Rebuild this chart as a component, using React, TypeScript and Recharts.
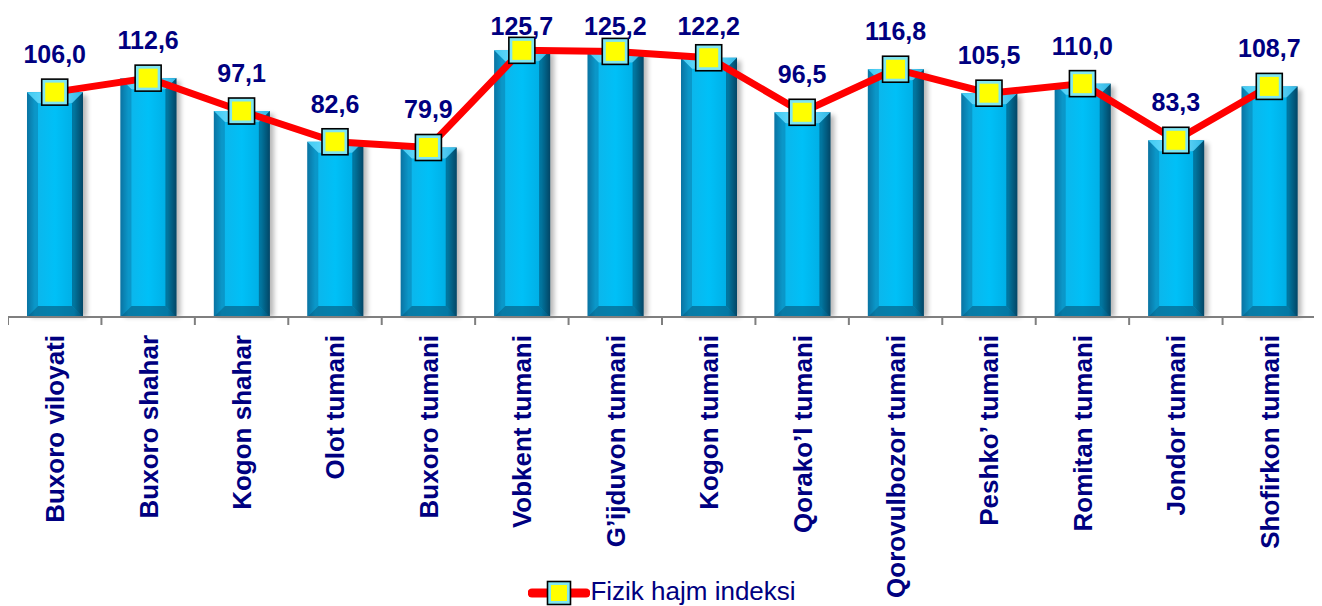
import React from 'react';
import { ComposedChart, Bar, Line, XAxis, YAxis, Legend, LabelList } from 'recharts';

const CATEGORIES = [
  'Buxoro viloyati',
  'Buxoro shahar',
  'Kogon shahar',
  'Olot tumani',
  'Buxoro tumani',
  'Vobkent tumani',
  'G’ijduvon tumani',
  'Kogon tumani',
  'Qorako’l tumani',
  'Qorovulbozor tumani',
  'Peshko’ tumani',
  'Romitan tumani',
  'Jondor tumani',
  'Shofirkon tumani',
];
const VALUES = [106.0, 112.6, 97.1, 82.6, 79.9, 125.7, 125.2, 122.2, 96.5, 116.8, 105.5, 110.0, 83.3, 108.7];
const SERIES_NAME = 'Fizik hajm indeksi';
const Y_DOMAIN: [number, number] = [0, 140];

const data = CATEGORIES.map((name, i) => ({ name, value: VALUES[i] }));

const NAVY = '#000080';
const FONT = '"Liberation Sans", Arial, sans-serif';

function BarShape(props: any) {
  const { x, y, width, height } = props;
  if (!height || height <= 0) return null;
  const b = Math.min(11, width / 4, height / 2);
  return (
    <g>
      <rect x={x + 4} y={y + 3} width={width} height={height - 3} fill="#000" opacity={0.28} filter="url(#blurShadow)" />
      <rect x={x} y={y} width={width} height={height} fill="url(#barGrad)" />
      <polygon points={`${x},${y} ${x + width},${y} ${x + width - b},${y + b} ${x + b},${y + b}`} fill="url(#topGrad)" />
      <polygon points={`${x},${y} ${x + b},${y + b} ${x + b},${y + height - b} ${x},${y + height}`} fill="#0a5f8a" opacity={0.35} />
      <polygon points={`${x + width},${y} ${x + width - b},${y + b} ${x + width - b},${y + height - b} ${x + width},${y + height}`} fill="#02304a" opacity={0.45} />
      <polygon points={`${x},${y + height} ${x + b},${y + height - b} ${x + width - b},${y + height - b} ${x + width},${y + height}`} fill="#064a6e" opacity={0.55} />
    </g>
  );
}

function SquareDot(props: any) {
  const { cx, cy } = props;
  if (cx == null || cy == null) return null;
  const s = 26;
  return (
    <g>
      <rect x={cx - s / 2} y={cy - s / 2} width={s} height={s} fill="#7fe6f2" stroke="#000" strokeWidth={1.6} />
      <rect x={cx - s / 2 + 3.5} y={cy - s / 2 + 3.5} width={s - 7} height={s - 7} fill="#ffff00" />
    </g>
  );
}

function XTick(props: any) {
  const { x, y, payload, index, width, visibleTicksCount } = props;
  const count = visibleTicksCount || CATEGORIES.length;
  const band = (width || 1308) / count;
  const ty = y + 18;
  return (
    <g>
      <line x1={x - band / 2} y1={y} x2={x - band / 2} y2={y + 8} stroke="#7f7f7f" strokeWidth={2} />
      {index === count - 1 && (
        <line x1={x + band / 2} y1={y} x2={x + band / 2} y2={y + 8} stroke="#7f7f7f" strokeWidth={2} />
      )}
      <text
        x={x}
        y={ty}
        transform={`rotate(-90, ${x}, ${ty})`}
        textAnchor="end"
        dy="0.36em"
        fill={NAVY}
        fontFamily={FONT}
        fontWeight="bold"
        fontSize={26}
      >
        {payload.value}
      </text>
    </g>
  );
}

function ValueLabel(props: any) {
  const { x, y, value } = props;
  if (x == null || y == null) return null;
  const baseline = Math.max(y - 29, 27);
  return (
    <text
      x={x}
      y={baseline}
      textAnchor="middle"
      fill={NAVY}
      fontFamily={FONT}
      fontWeight="bold"
      fontSize={25}
    >
      {Number(value).toFixed(1).replace('.', ',')}
    </text>
  );
}

function LegendContent() {
  return (
    <div style={{ height: 38, display: 'flex', justifyContent: 'center', alignItems: 'flex-start' }}>
      <svg width={62} height={38} style={{ display: 'block' }}>
        <line x1={4} y1={25} x2={58} y2={25} stroke="#ff0000" strokeWidth={9} strokeLinecap="round" />
        <rect x={19.5} y={13.5} width={23} height={23} fill="#7fe6f2" stroke="#000" strokeWidth={1.6} />
        <rect x={23} y={17} width={16} height={16} fill="#ffff00" />
      </svg>
      <span
        style={{
          fontFamily: FONT,
          fontSize: 26,
          lineHeight: '26px',
          color: NAVY,
          marginTop: 10,
          whiteSpace: 'nowrap',
        }}
      >
        {SERIES_NAME}
      </span>
    </div>
  );
}

export default function App() {
  return (
    <div style={{ width: 1314, height: 598 }}>
      <ComposedChart width={1314} height={598} data={data} margin={{ top: 12, right: 6, left: 0, bottom: 0 }}>
        <defs>
          <linearGradient id="barGrad" x1="0" y1="0" x2="1" y2="0">
            <stop offset="0%" stopColor="#0b7fb0" />
            <stop offset="14%" stopColor="#0db5ea" />
            <stop offset="50%" stopColor="#00c0f7" />
            <stop offset="84%" stopColor="#00aee5" />
            <stop offset="100%" stopColor="#04587e" />
          </linearGradient>
          <linearGradient id="topGrad" x1="0" y1="0" x2="1" y2="0">
            <stop offset="0%" stopColor="#3fcaf2" />
            <stop offset="50%" stopColor="#7ae0ff" />
            <stop offset="100%" stopColor="#2fb8e6" />
          </linearGradient>
          <filter id="blurShadow" x="-30%" y="-10%" width="160%" height="120%">
            <feGaussianBlur stdDeviation="2.5" />
          </filter>
        </defs>
        <XAxis
          dataKey="name"
          interval={0}
          height={251}
          tickSize={0}
          tickMargin={0}
          tickLine={false}
          axisLine={{ stroke: '#7f7f7f', strokeWidth: 2 }}
          tick={<XTick />}
        />
        <YAxis hide domain={Y_DOMAIN} />
        <Legend verticalAlign="bottom" content={<LegendContent />} />
        <Bar dataKey="value" name={SERIES_NAME} barSize={56} shape={<BarShape />} isAnimationActive={false} legendType="none" />
        <Line
          dataKey="value"
          name={SERIES_NAME}
          type="linear"
          stroke="#ff0000"
          strokeWidth={7}
          dot={<SquareDot />}
          activeDot={false}
          isAnimationActive={false}
        >
          <LabelList dataKey="value" content={<ValueLabel />} />
        </Line>
      </ComposedChart>
    </div>
  );
}
